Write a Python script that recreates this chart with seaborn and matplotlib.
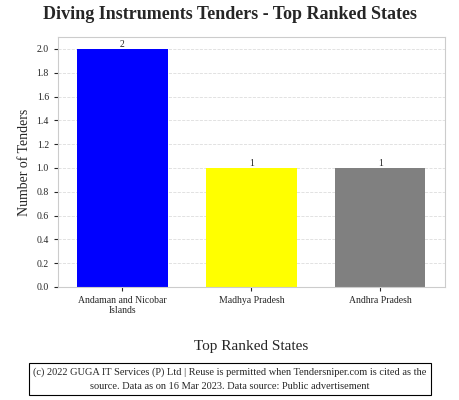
import matplotlib
matplotlib.use("Agg")
import matplotlib.pyplot as plt
import seaborn as sns
import pandas as pd

states = ["Andaman and Nicobar\nIslands", "Madhya Pradesh", "Andhra Pradesh"]
tenders = [2, 1, 1]
colors = ["#0000ff", "#ffff00", "#808080"]

sns.set_style("white")
plt.rcParams['font.family'] = ['Liberation Serif', 'DejaVu Serif']

fig = plt.figure(figsize=(4.6, 4.0), dpi=100)
ax = fig.add_axes([0.126, 0.2825, 0.841, 0.625])
df = pd.DataFrame({"state": states, "n": tenders})
sns.barplot(data=df, x="state", y="n", hue="state", palette=colors, width=0.7,
            ax=ax, legend=False, edgecolor="none", saturation=1)
for i, v in enumerate(tenders):
    ax.text(i, v, str(v), ha="center", va="bottom", fontsize=7)
ax.set_ylim(0, 2.1)
ax.set_yticks([i * 0.2 for i in range(11)])
ax.set_yticklabels([f"{i*0.2:.1f}" for i in range(11)], fontsize=7)
ax.tick_params(axis="x", labelsize=7, length=3)
ax.tick_params(axis="y", length=3, left=True)
ax.tick_params(axis="x", bottom=True)
ax.yaxis.grid(True, color="#dddddd", linestyle="--", linewidth=0.6)
ax.set_axisbelow(True)
for s in ax.spines.values():
    s.set_color("#cccccc")
ax.set_xlabel("Top Ranked States", fontsize=11, labelpad=18)
ax.set_ylabel("Number of Tenders", fontsize=10)
fig.suptitle("Diving Instruments Tenders - Top Ranked States", fontsize=13,
             fontweight="bold", y=0.985)
fig.text(0.5, 0.053, "(c) 2022 GUGA IT Services (P) Ltd | Reuse is permitted when Tendersniper.com is cited as the\nsource. Data as on 16 Mar 2023. Data source: Public advertisement",
         ha="center", va="center", fontsize=7.5, linespacing=1.7,
         bbox=dict(boxstyle="square,pad=0.4", fc="white", ec="black", lw=0.8))
fig.savefig("out.png", dpi=100)
